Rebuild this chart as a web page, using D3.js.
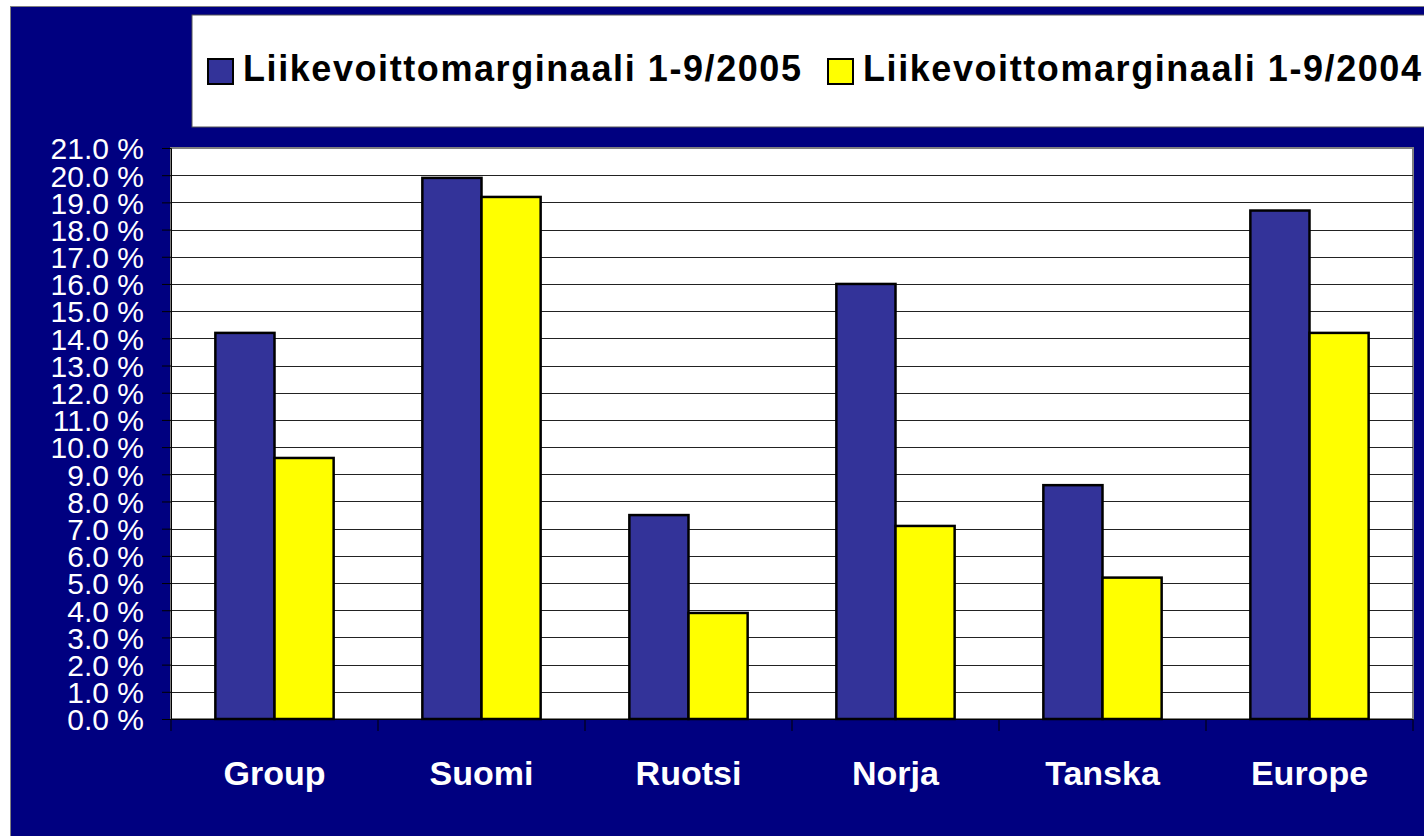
<!DOCTYPE html>
<html>
<head>
<meta charset="utf-8">
<script src="https://cdn.jsdelivr.net/npm/d3@7"></script>
<style>
  html, body { margin: 0; padding: 0; background: #ffffff; overflow: hidden; }
  svg { display: block; font-family: "Liberation Sans", Arial, sans-serif; }
</style>
</head>
<body>
<svg id="chart" width="1424" height="836"></svg>
<script>
const categories = ["Group", "Suomi", "Ruotsi", "Norja", "Tanska", "Europe"];
const seriesNames = ["Liikevoittomarginaali 1-9/2005", "Liikevoittomarginaali 1-9/2004"];
const values2005 = [14.2, 19.9, 7.5, 16.0, 8.6, 18.7];
const values2004 = [9.6, 19.2, 3.9, 7.1, 5.2, 14.2];
const yTicks = [0,1,2,3,4,5,6,7,8,9,10,11,12,13,14,15,16,17,18,19,20,21];
const seriesColors = ["#333399", "#FFFF00"];

const svg = d3.select("#chart");

// outer navy background
svg.append("rect").attr("x", 10.5).attr("y", 6.5).attr("width", 1430).attr("height", 840)
  .attr("fill", "#000080").attr("stroke", "#808080").attr("stroke-width", 1);

// legend box
svg.append("rect").attr("x", 192).attr("y", 15).attr("width", 1250).attr("height", 112)
  .attr("fill", "#ffffff").attr("stroke", "#555555").attr("stroke-width", 1);

const plot = {left: 171, top: 148, right: 1413, bottom: 719};

const x = d3.scaleBand().domain(categories).range([plot.left, plot.right]).padding(0);
const xs = d3.scaleBand().domain([0, 1]).range([0, x.bandwidth()]).paddingInner(0).paddingOuter(0.75);
const y = d3.scaleLinear().domain([0, 21]).range([plot.bottom, plot.top]);

// plot area
svg.append("rect").attr("x", plot.left).attr("y", plot.top)
  .attr("width", plot.right - plot.left).attr("height", plot.bottom - plot.top)
  .attr("fill", "#ffffff").attr("stroke", "#808080").attr("stroke-width", 2);

// gridlines
svg.append("g").selectAll("line").data(yTicks.filter(d => d > 0 && d < 21)).join("line")
  .attr("x1", plot.left).attr("x2", plot.right)
  .attr("y1", d => Math.round(y(d)) + 0.5).attr("y2", d => Math.round(y(d)) + 0.5)
  .attr("stroke", "#222222").attr("stroke-width", 1);

// bars
const data = categories.map((c, i) => ({cat: c, vals: [values2005[i], values2004[i]]}));
const groups = svg.append("g").selectAll("g").data(data).join("g")
  .attr("transform", d => `translate(${x(d.cat)},0)`);
groups.selectAll("rect").data(d => d.vals.map((v, k) => ({v, k}))).join("rect")
  .attr("x", d => xs(d.k))
  .attr("y", d => y(d.v))
  .attr("width", xs.bandwidth())
  .attr("height", d => y(0) - y(d.v))
  .attr("fill", d => seriesColors[d.k])
  .attr("stroke", "#000000").attr("stroke-width", 2.5);

// y axis
const yAxis = svg.append("g").attr("transform", `translate(${plot.left},0)`)
  .call(d3.axisLeft(y).tickValues(yTicks).tickSize(9).tickPadding(18)
    .tickFormat(d => d3.format(".1f")(d) + " %"));
yAxis.select(".domain").attr("stroke", "#000000").attr("stroke-width", 1);
yAxis.selectAll(".tick line").attr("stroke", "#000000");
yAxis.selectAll(".tick text").attr("fill", "#ffffff").attr("font-size", 30)
  .attr("font-family", "'Liberation Sans', Arial, sans-serif").attr("dy", "0.36em");

// x axis
const xAxis = svg.append("g").attr("transform", `translate(0,${plot.bottom})`)
  .call(d3.axisBottom(x).tickSize(0).tickPadding(0).tickFormat(""));
xAxis.select(".domain").attr("stroke", "#000000").attr("stroke-width", 1);
const bounds = categories.map(c => x(c)).concat([plot.right]);
xAxis.append("g").selectAll("line").data(bounds).join("line")
  .attr("x1", d => d).attr("x2", d => d).attr("y1", 0).attr("y2", 12)
  .attr("stroke", "#000000").attr("stroke-width", 1);
xAxis.append("g").selectAll("text").data(categories).join("text")
  .attr("x", d => x(d) + x.bandwidth() / 2)
  .attr("y", 66)
  .attr("text-anchor", "middle")
  .attr("fill", "#ffffff").attr("font-weight", "bold").attr("font-size", 34)
  .text(d => d);

// legend
const legendItems = [
  {name: seriesNames[0], color: seriesColors[0], sx: 208, tx: 243},
  {name: seriesNames[1], color: seriesColors[1], sx: 828, tx: 863}
];
const lg = svg.append("g");
lg.selectAll("rect").data(legendItems).join("rect")
  .attr("x", d => d.sx).attr("y", 59).attr("width", 25).attr("height", 25)
  .attr("fill", d => d.color).attr("stroke", "#000000").attr("stroke-width", 2);
lg.selectAll("text").data(legendItems).join("text")
  .attr("x", d => d.tx).attr("y", 81)
  .attr("fill", "#000000").attr("font-weight", "bold").attr("font-size", 36)
  .attr("textLength", 558).attr("lengthAdjust", "spacing")
  .text(d => d.name);
</script>
</body>
</html>
